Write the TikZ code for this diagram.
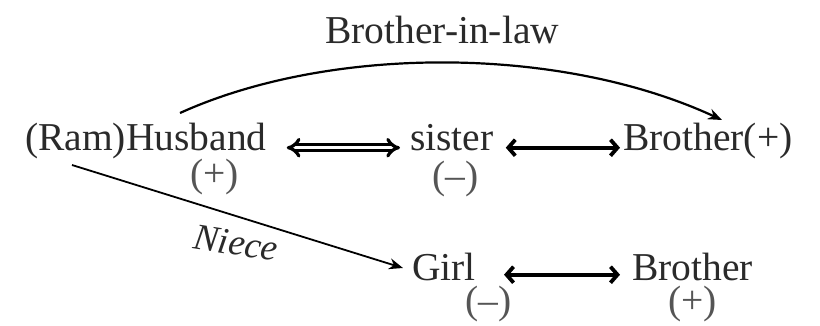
\documentclass[tikz,border=0pt]{standalone}
\usepackage{fontspec}
\setmainfont{Liberation Serif}
\usetikzlibrary{arrows.meta}
\definecolor{ink}{HTML}{2A2A2A}
\begin{document}
\begin{tikzpicture}[x=1pt,y=-1pt,
  txt/.style={inner sep=0pt, anchor=base west, text=ink, font=\fontsize{39.5}{40}\selectfont},
  sgn/.style={txt, text=ink!80},
  dbl/.style={draw=black, double=white, double distance=3pt, line width=3.2pt, {Implies}-{Implies}},
  sgl/.style={draw=black, line width=3.8pt, {Straight Barb[length=7pt,width=16pt]}-{Straight Barb[length=7pt,width=16pt]}},
  rel/.style={draw=black, line width=2.2pt, -{Stealth[length=14pt,width=11pt]}}]
\useasboundingbox (0,0) rectangle (820,325);
\fill[white] (0,0) rectangle (820,325);
% nodes
\node[txt] (husband) at (25,150) {(Ram)Husband};
\node[sgn] (hplus) at (190,186) {(+)};
\node[txt] (sister) at (410,150) {sister};
\node[sgn] (sminus) at (432,188) {(–)};
\node[txt] (bro1) at (623,150) {Brother(+)};
\node[txt] (bil) at (325,43) {Brother-in-law};
\node[txt] (girl) at (412,280) {Girl};
\node[sgn] (gminus) at (465,313) {(–)};
\node[txt] (bro2) at (632,280) {Brother};
\node[sgn] (bplus) at (668,313) {(+)};
\node[txt, anchor=center, font=\fontsize{37}{38}\selectfont\itshape, rotate=-9] (niece) at (236,243) {Niece};
% connectors
\draw[dbl, shorten <=20pt, shorten >=10pt] (husband.mid east) -- (sister.mid west);
\draw[sgl, shorten <=12pt, shorten >=3pt] (sister.mid east) -- (bro1.mid west);
\draw[sgl, shorten <=28pt, shorten >=12pt] ([yshift=3pt]girl.mid east) -- ([yshift=3pt]bro2.mid west);
\draw[rel, line width=1.8pt] ([shift={(47,15)}]husband.base west) -- ([shift={(-9,-12)}]girl.base west);
\draw[rel] ([shift={(155,-37)}]husband.base west) .. controls (330,45) and (560,45) .. ([shift={(99,-30)}]bro1.base west);
\end{tikzpicture}
\end{document}
